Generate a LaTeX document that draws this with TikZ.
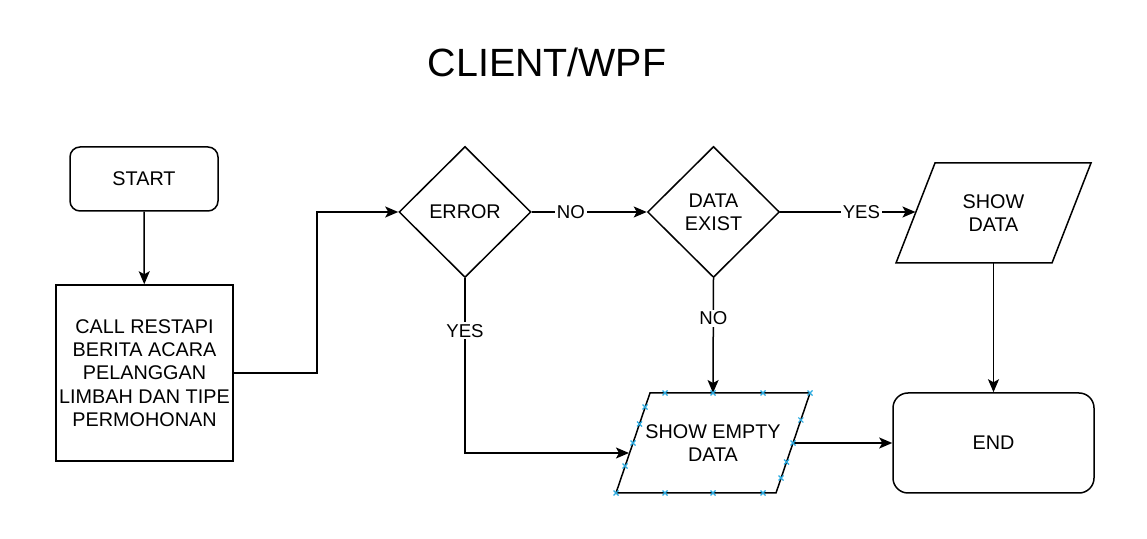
\documentclass[tikz,border=0pt]{standalone}
\usepackage{fontspec}
\setmainfont{Liberation Sans}
\usetikzlibrary{shapes.geometric,arrows.meta}
\definecolor{handleblue}{RGB}{41,170,225}
\begin{document}
\begin{tikzpicture}[
        x=0.5pt, y=-0.5pt,
        line width=0.75pt,
        every node/.style={
            font=\fontsize{9.9}{11.6}\selectfont,
            align=center,
            inner sep=1pt},
        terminal/.style={draw, rounded corners=5pt, minimum width=74pt, minimum height=32pt},
        process/.style={draw, minimum width=88.5pt, minimum height=88pt},
        decision/.style={draw, diamond, aspect=1, minimum width=66pt, minimum height=65.5pt},
        branch/.style={fill=white, inner sep=1pt, font=\fontsize{9.3}{11}\selectfont},
        flow/.style={-{Stealth[length=6.5pt,width=5.5pt,inset=1.5pt]}},
        handle/.style={handleblue, line width=0.55pt}]
        \useasboundingbox (0,0) rectangle (1147,539);

        \node[font=\fontsize{19.7}{24}\selectfont] (title) at (547,62) {CLIENT/WPF};

        \node[terminal] (start) at (144,179) {START};
        \node[process] (call) at (144.5,373) {CALL RESTAPI\\BERITA ACARA\\PELANGGAN\\LIMBAH DAN TIPE\\PERMOHONAN};
        \node[decision] (error) at (465,212) {ERROR};
        \node[decision] (exist) at (713.5,212) {DATA\\EXIST};
        \node (show) at (993.5,213) {SHOW\\DATA};
        \node (empty) at (713,443) {SHOW EMPTY\\DATA};
        \node[terminal, rounded corners=7.5pt, minimum width=100.5pt, minimum height=50pt] (end) at (993.5,443) {END};

        % parallelogram outlines
        \draw (935,163) -- (1091,163) -- (1052,263) -- (896,263) -- cycle;
        \draw (650,393) -- (810,393) -- (776,493) -- (616,493) -- cycle;
        \coordinate (showin) at (915.5,212);
        \coordinate (showout) at (993.5,263);
        \coordinate (emptytop) at (713,393);
        \coordinate (emptyin) at (629,453);
        \coordinate (emptyout) at (793,443);

        \draw[flow] (start) -- (call);
        \draw[flow] (call.east) -- ++(83,0) |- (error.west);
        \draw[flow] (error.east) -- node[branch, pos=0.34] {NO} (exist.west);
        \draw[flow] (exist.east) -- node[branch, pos=0.6] {YES} (showin);
        \draw[flow] (error.south) |- node[branch, pos=0.15] {YES} (emptyin);
        \draw[flow] (exist.south) -- node[branch, pos=0.35] {NO} (emptytop);
        \draw[flow] (showout) -- (end.north);
        \draw[flow] (emptyout) -- (end.west);

        % connection handles on the selected shape
        \foreach \p in {(665,393),(713,393),(763,393),(810,393),
                        (616,493),(665,493),(713,493),(763,493),
                        (645,407),(639.5,424),(633,443),(625,466),
                        (800.8,420),(793,443),(786.5,462),(781,478)}
            \draw[handle] \p ++(-2.5,-2.5) -- ++(5,5) ++(-5,0) -- ++(5,-5);
    \end{tikzpicture}
\end{document}
